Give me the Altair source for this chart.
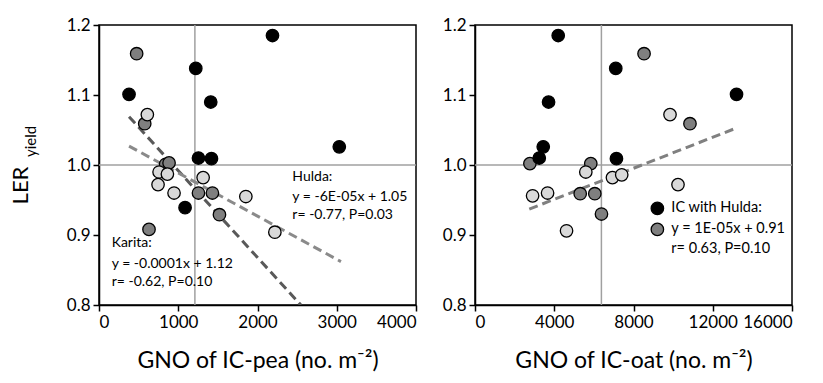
import altair as alt
import pandas as pd

# ---------------- data: left panel (GNO of IC-pea) ----------------
pea_black_x = [2189, 1221, 379, 1410, 3032, 1255, 1419, 1086]
pea_black_y = [1.185, 1.138, 1.101, 1.090, 1.026, 1.010, 1.009, 0.939]
pea_gray_x = [475, 577, 841, 884, 1255, 1431, 1520, 631]
pea_gray_y = [1.159, 1.059, 1.001, 1.003, 0.960, 0.960, 0.929, 0.908]
pea_light_x = [610, 758, 863, 1314, 745, 947, 1853, 2219]
pea_light_y = [1.072, 0.990, 0.987, 0.982, 0.972, 0.960, 0.955, 0.904]

# ---------------- data: right panel (GNO of IC-oat) ----------------
oat_black_x = [4200, 7104, 13200, 3713, 3444, 3243, 7139]
oat_black_y = [1.185, 1.138, 1.101, 1.090, 1.026, 1.010, 1.009]
oat_gray_x = [8533, 10850, 2771, 5844, 5310, 6046, 6383]
oat_gray_y = [1.159, 1.059, 1.002, 1.002, 0.959, 0.959, 0.930]
oat_light_x = [9843, 5593, 6937, 7406, 10246, 2907, 3663, 4620]
oat_light_y = [1.072, 0.990, 0.982, 0.986, 0.972, 0.956, 0.960, 0.906]

# trend lines (endpoints)
karita_x = [379, 2547]
karita_y = [1.069, 0.800]
hulda_x = [379, 3053]
hulda_y = [1.027, 0.862]
oat_line_x = [2739, 13117]
oat_line_y = [0.937, 1.052]

# reference lines
pea_vline = 1210
oat_vline = 6380
hline = 1.0

# annotations
pea_hulda_text = ["Hulda:", "y = -6E-05x + 1.05", "r= -0.77, P=0.03"]
pea_hulda_tx = 2440
pea_hulda_ty = [0.983, 0.954, 0.929]
pea_karita_text = ["Karita:", "y = -0.0001x + 1.12", "r= -0.62, P=0.10"]
pea_karita_tx = 160
pea_karita_ty = [0.888, 0.859, 0.833]
oat_legend_text = ["IC with Hulda:", "y = 1E-05x + 0.91", "r= 0.63, P=0.10"]
oat_legend_tx = 9910
oat_legend_ty = [0.938, 0.908, 0.880]
oat_legend_sym_x = 9205
oat_legend_sym_y = [0.938, 0.908]
oat_legend_sym_g = ["black", "gray"]

pea_xticks = [0, 1000, 2000, 3000, 4000]
oat_xticks = [0, 4000, 8000, 12000, 16000]
yticks = [0.8, 0.9, 1.0, 1.1, 1.2]

FONT = "Lato"
W, H = 317, 280
fill_scale = alt.Scale(domain=["gray", "light", "black"],
                       range=["#7f7f7f", "#d9d9d9", "#000000"])


def points_df(bx, by, gx, gy, lx, ly):
    rows = []
    for x, y in zip(gx, gy):
        rows.append({"x": x, "y": y, "g": "gray"})
    for x, y in zip(lx, ly):
        rows.append({"x": x, "y": y, "g": "light"})
    for x, y in zip(bx, by):
        rows.append({"x": x, "y": y, "g": "black"})
    return pd.DataFrame(rows)


def panel(pts, xdom, xticks, xtitle, vline, lines, texts, show_ytitle):
    xs = alt.Scale(domain=xdom, nice=False, zero=False)
    ys = alt.Scale(domain=[0.8, 1.2], nice=False, zero=False)
    xax = alt.Axis(values=xticks, format="d", title=xtitle, titleFontSize=23,
                   titleFont=FONT, titleFontWeight="normal", titlePadding=19,
                   titleColor="black")
    if show_ytitle:
        yax = alt.Axis(values=yticks, format=".1f", title="LER", titleFont=FONT,
                       titleFontSize=22, titleFontWeight="normal", titleColor="black",
                       titleAngle=270, titleAlign="center", titleBaseline="middle",
                       titleX=-79, titleY=160)
    else:
        yax = alt.Axis(values=yticks, format=".1f", title=None)

    base_pts = alt.Chart(pts).mark_point(
        filled=True, size=155, stroke="black", strokeWidth=1.3, opacity=1
    ).encode(
        x=alt.X("x:Q", scale=xs, axis=xax),
        y=alt.Y("y:Q", scale=ys, axis=yax),
        fill=alt.Fill("g:N", scale=fill_scale, legend=None),
    )
    hrule = alt.Chart(pd.DataFrame({"y": [hline]})).mark_rule(
        color="#a0a0a0", strokeWidth=1.5).encode(y=alt.Y("y:Q", scale=ys))
    vrule = alt.Chart(pd.DataFrame({"x": [vline]})).mark_rule(
        color="#a0a0a0", strokeWidth=1.5).encode(x=alt.X("x:Q", scale=xs))
    layers = [hrule, vrule]
    for lx, ly, col in lines:
        ldf = pd.DataFrame({"x": lx, "y": ly})
        layers.append(alt.Chart(ldf).mark_line(
            color=col, strokeWidth=3, strokeDash=[9, 5], clip=True
        ).encode(x=alt.X("x:Q", scale=xs), y=alt.Y("y:Q", scale=ys)))
    layers.append(base_pts)
    for tdf, size in texts:
        layers.append(alt.Chart(tdf).mark_text(
            align="left", baseline="middle", font=FONT, fontSize=size, color="black"
        ).encode(x=alt.X("x:Q", scale=xs), y=alt.Y("y:Q", scale=ys), text="t:N"))
    inner = alt.layer(*layers)
    if show_ytitle:
        sub = alt.Chart(pd.DataFrame({"y": [1.0]})).mark_point(opacity=0).encode(
            y=alt.Y("y:Q", scale=ys, axis=alt.Axis(
                orient="left", title="yield", labels=False, ticks=False, domain=False,
                grid=False, titleFont=FONT, titleFontSize=15, titleFontWeight="normal",
                titleColor="black", titleAngle=270, titleAlign="center",
                titleBaseline="middle", titleX=-69, titleY=116)))
        return alt.layer(inner, sub).resolve_scale(y="independent").properties(width=W, height=H)
    return inner.properties(width=W, height=H)


pea_pts = points_df(pea_black_x, pea_black_y, pea_gray_x, pea_gray_y,
                    pea_light_x, pea_light_y)
oat_pts = points_df(oat_black_x, oat_black_y, oat_gray_x, oat_gray_y,
                    oat_light_x, oat_light_y)

pea_texts = [
    (pd.DataFrame({"x": [pea_hulda_tx] * 3, "y": pea_hulda_ty, "t": pea_hulda_text}), 14),
    (pd.DataFrame({"x": [pea_karita_tx] * 3, "y": pea_karita_ty, "t": pea_karita_text}), 14),
]
oat_texts = [
    (pd.DataFrame({"x": [oat_legend_tx] * 3, "y": oat_legend_ty, "t": oat_legend_text}), 14.5),
]

left = panel(pea_pts, [0, 4000], pea_xticks, "GNO of IC-pea (no. m\u207b\u00b2)", pea_vline,
             [(karita_x, karita_y, "#595959"), (hulda_x, hulda_y, "#8a8a8a")],
             pea_texts, True)

sym_df = pd.DataFrame({"x": [oat_legend_sym_x] * 2, "y": oat_legend_sym_y, "g": oat_legend_sym_g})
right_base = panel(oat_pts, [0, 16000], oat_xticks, "GNO of IC-oat (no. m\u207b\u00b2)", oat_vline,
                   [(oat_line_x, oat_line_y, "#808080")], oat_texts, False)
sym = alt.Chart(sym_df).mark_point(
    filled=True, size=155, stroke="black", strokeWidth=1.3, opacity=1
).encode(
    x=alt.X("x:Q", scale=alt.Scale(domain=[0, 16000], nice=False, zero=False)),
    y=alt.Y("y:Q", scale=alt.Scale(domain=[0.8, 1.2], nice=False, zero=False)),
    fill=alt.Fill("g:N", scale=fill_scale, legend=None),
)
right = alt.layer(right_base, sym).properties(width=W, height=H)

chart = alt.hconcat(left, right, spacing=59, bounds="flush").properties(
    padding={"left": 8, "top": 15, "right": 5, "bottom": 5},
    background="white",
).configure_view(
    stroke="black", strokeWidth=1.5
).configure_axis(
    labelFont=FONT, labelFontSize=17, labelColor="black", labelPadding=3,
    tickColor="black", tickWidth=1.5, tickSize=6,
    domainColor="black", domainWidth=1.5, grid=False,
)

chart.save("out.html", embed_options={"renderer": "svg", "actions": False})
